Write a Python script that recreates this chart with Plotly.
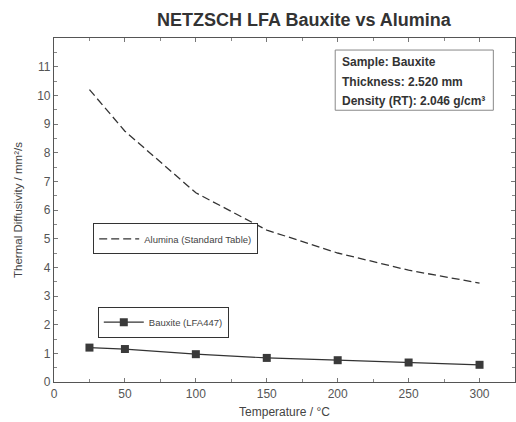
import plotly.graph_objects as go

temps = [25, 50, 100, 150, 200, 250, 300]
alumina = [10.2, 8.75, 6.6, 5.3, 4.5, 3.9, 3.45]
bauxite = [1.2, 1.15, 0.97, 0.84, 0.76, 0.68, 0.6]
x_ticks = [0, 50, 100, 150, 200, 250, 300]
y_ticks = list(range(0, 12))
info_lines = ["Sample: Bauxite", "Thickness: 2.520 mm", "Density (RT): 2.046 g/cm³"]

font = "Liberation Sans, Arial, sans-serif"

fig = go.Figure()
fig.add_trace(go.Scatter(
    x=temps, y=alumina, mode="lines", name="Alumina (Standard Table)",
    line=dict(color="#333333", width=1.3, dash="8px,4px"), legend="legend"))
fig.add_trace(go.Scatter(
    x=temps, y=bauxite, mode="lines+markers", name="Bauxite (LFA447)",
    line=dict(color="#333333", width=1.2),
    marker=dict(symbol="square", size=8, color="#3a3a3a"), legend="legend2"))

axis_common = dict(showgrid=False, zeroline=False, showline=True, linecolor="#555555",
                   linewidth=1.2, mirror="ticks", ticks="inside", ticklen=4, automargin=False,
                   tickcolor="#777777", tickfont=dict(family=font, size=12, color="#555555"))

annotations = []
for i, line in enumerate(info_lines):
    annotations.append(dict(
        text="<b>" + line + "</b>", xref="paper", yref="paper",
        x=0.62, y=0.93 - i * 0.057, xanchor="left", yanchor="middle",
        showarrow=False, align="left", font=dict(family=font, size=12, color="#333333")))

fig.update_layout(
    width=516, height=422,
    margin=dict(l=54, r=1, t=38, b=40),
    paper_bgcolor="white", plot_bgcolor="white",
    showlegend=True,
    title=dict(text="<b>NETZSCH LFA Bauxite vs Alumina</b>", x=0.589, xanchor="center",
               y=0.953, yanchor="middle", font=dict(family=font, size=18, color="#333333")),
    xaxis=dict(range=[0, 325], tickvals=x_ticks,
               minor=dict(dtick=25, tick0=0, ticks="inside", ticklen=3, tickcolor="#888888"),
               title=dict(text="Temperature / °C", font=dict(family=font, size=12, color="#444444"), standoff=8),
               **axis_common),
    yaxis=dict(range=[0, 12], tickvals=y_ticks,
               minor=dict(dtick=0.5, tick0=0, ticks="inside", ticklen=3, tickcolor="#888888"),
               title=dict(text="Thermal Diffusivity / mm²/s", font=dict(family=font, size=11.5, color="#444444"), standoff=12),
               **axis_common),
    legend=dict(x=0.085, y=0.416, xanchor="left", yanchor="middle", bgcolor="white",
                bordercolor="#333333", borderwidth=1,
                font=dict(family=font, size=9.5, color="#444444"), itemwidth=40),
    legend2=dict(x=0.095, y=0.174, xanchor="left", yanchor="middle", bgcolor="white",
                 bordercolor="#333333", borderwidth=1,
                 font=dict(family=font, size=9.5, color="#444444"), itemwidth=40),
    shapes=[dict(type="rect", xref="paper", yref="paper", x0=0.61, x1=0.953, y0=0.79, y1=0.965,
                 line=dict(color="#888888", width=1), fillcolor="white", layer="above")],
    annotations=annotations,
)

fig.write_html("out.html", config={"displayModeBar": False},
               post_script="document.body.style.margin='0';")
